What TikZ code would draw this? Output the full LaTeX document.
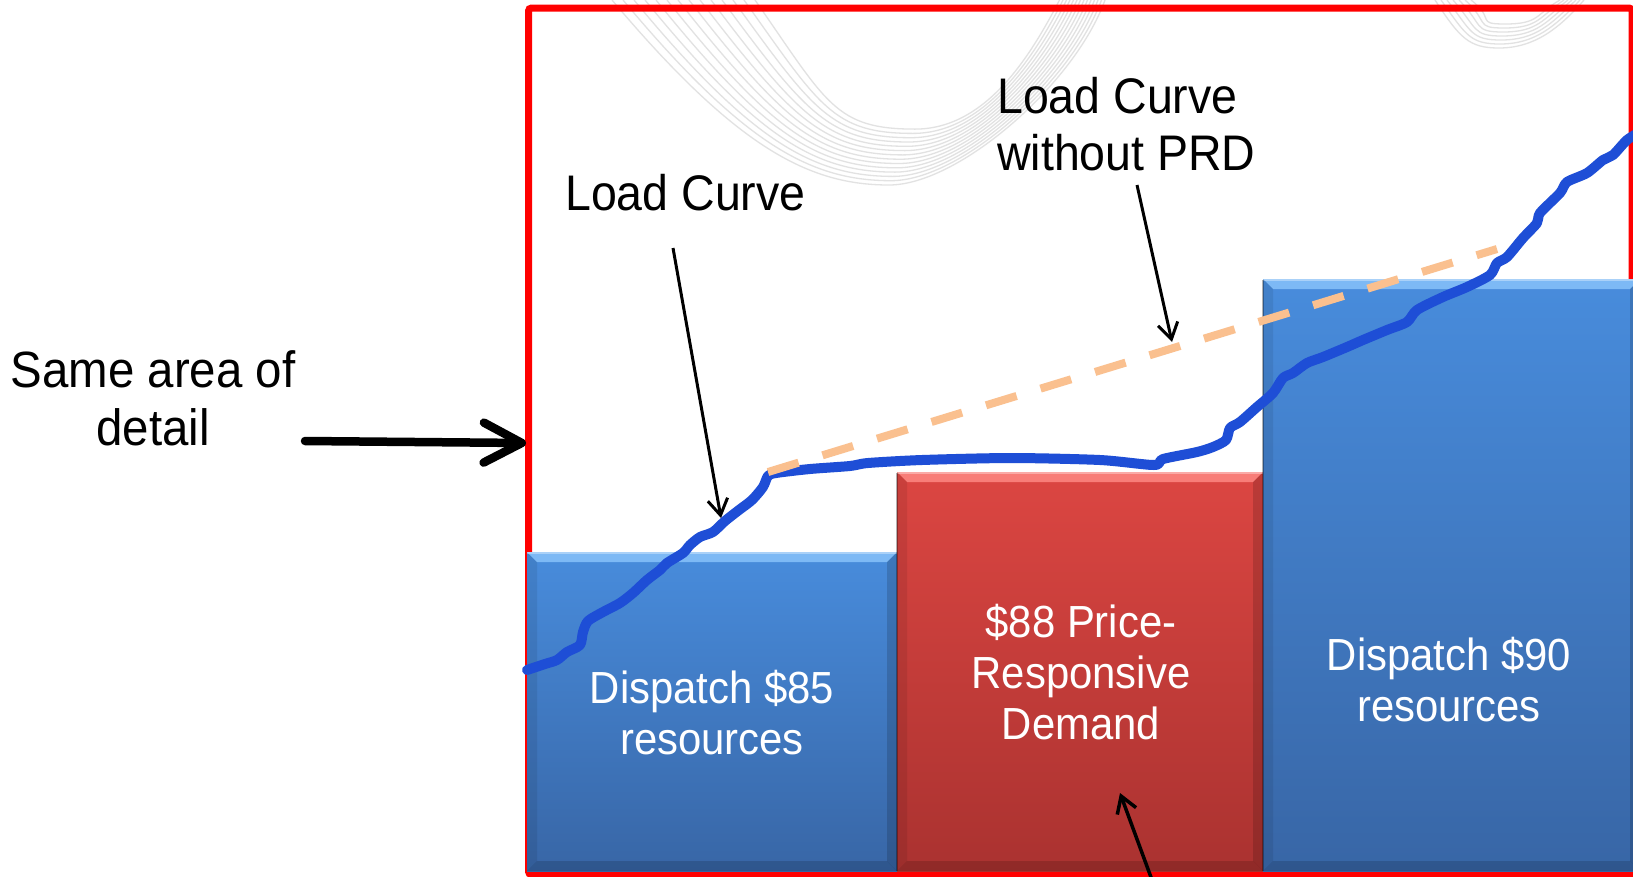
\documentclass[tikz,border=0pt]{standalone}
\usepackage{fontspec}
\setmainfont{Liberation Sans}[FakeStretch=0.93]
\usetikzlibrary{arrows.meta}

\definecolor{blueTop}{RGB}{72,140,220}
\definecolor{blueBot}{RGB}{56,102,166}
\definecolor{blueHi}{RGB}{125,185,245}
\definecolor{redTop}{RGB}{220,70,66}
\definecolor{redBot}{RGB}{170,50,48}
\definecolor{redHi}{RGB}{248,125,120}
\definecolor{loadblue}{RGB}{30,78,214}
\definecolor{prdpeach}{RGB}{250,192,143}
\definecolor{framered}{RGB}{255,0,0}
\definecolor{wavegray}{RGB}{226,226,226}

% bevelled bar: #1 x1, #2 y1, #3 x2, #4 y2, #5 colour prefix
\newcommand\bevelbar[5]{%
  \fill[top color=#5Top, bottom color=#5Bot] (#1,#2) rectangle (#3,#4);
  \fill[#5Hi] (#1,#2) -- (#3,#2) -- ({#3-10},{#2+10}) -- ({#1+10},{#2+10}) -- cycle;
  \fill[black, opacity=0.08] (#1,#2) -- ({#1+10},{#2+10}) -- ({#1+10},{#4-10}) -- (#1,#4) -- cycle;
  \fill[black, opacity=0.15] (#3,#2) -- ({#3-10},{#2+10}) -- ({#3-10},{#4-10}) -- (#3,#4) -- cycle;
  \fill[black, opacity=0.15] (#1,#4) -- ({#1+10},{#4-10}) -- ({#3-10},{#4-10}) -- (#3,#4) -- cycle;
  \draw[white, opacity=0.35, line width=1.5] (#1,{#2+0.75}) -- (#3,{#2+0.75});
}

\tikzset{
  bartext/.style={text=white, align=center, inner sep=0pt, font=\fontsize{45}{51}\selectfont},
  calltext/.style={text=black, inner sep=0pt, font=\fontsize{50}{57}\selectfont},
  pointer/.style={draw=black, line width=3pt, -{Straight Barb[length=16pt,width=20pt]}},
  bigpointer/.style={draw=black, line width=8.5pt, line cap=round,
    -{Straight Barb[length=38pt,width=40pt,line cap=round,line join=round]}},
  wave/.style={draw=wavegray, line width=1.3pt},
}

\begin{document}
\begin{tikzpicture}[x=1pt, y=-1pt]
\useasboundingbox (0,0) rectangle (1633,876);
\fill[white] (0,0) rectangle (1633,876);

% faint template waves behind the chart
\foreach \t in {0,...,13} {
  \pgfmathsetmacro\xl{612+\t*11}
  \pgfmathsetmacro\xb{889+\t*2}
  \pgfmathsetmacro\yb{185-\t*4.3}
  \pgfmathsetmacro\xr{1105-\t*3.5}
  \draw[wave] (\xl,0) .. controls ({\xl+(\xb-\xl)*0.45},{\yb*0.8}) and ({\xb-80},\yb) .. (\xb,\yb)
     .. controls ({\xb+70},\yb) and ({\xr-30},{\yb*0.45}) .. (\xr,0);
}
\foreach \t in {0,...,6} {
  \pgfmathsetmacro\xl{1435+\t*6}
  \pgfmathsetmacro\xb{1499+\t*1}
  \pgfmathsetmacro\yb{48-\t*4}
  \pgfmathsetmacro\xr{1584-\t*4}
  \draw[wave] (\xl,0) .. controls ({\xl+25},{\yb*0.8}) and ({\xb-30},\yb) .. (\xb,\yb)
     .. controls ({\xb+35},\yb) and ({\xr-25},{\yb*0.6}) .. (\xr,0);
}

% red detail frame
\draw[framered, line width=7pt, rounded corners=3pt] (528.5,8) rectangle (1632,874.5);

% price bars
\bevelbar{527}{552}{897}{871}{blue}
\bevelbar{897}{472}{1263}{871}{red}
\bevelbar{1263}{279}{1640}{871}{blue}
\draw[black, opacity=0.3, line width=2.5pt] (897,473) -- (897,871);
\draw[black, opacity=0.3, line width=2.5pt] (1263,280) -- (1263,871);

% the base anchor of a multi-line node sits on its last line
\node[bartext, anchor=base] (b85) at (712,754) {Dispatch \$85\\resources};
\node[bartext, anchor=base] (b88) at (1081,739) {\$88 Price-\\Responsive\\Demand};
\node[bartext, anchor=base] (b90) at (1449,721) {Dispatch \$90\\resources};

% load curve and load curve without price-responsive demand
\draw[loadblue, line width=10pt, line join=round, line cap=round]
  plot[smooth, tension=0.45] coordinates {
  (527,670) (545,664) (557,660) (567,652) (580,645) (583,632) (588,621) (603,612)
  (620,603) (633,593) (647,580) (660,570) (667,563) (683,553) (690,545) (700,537)
  (713,532) (725,521) (739,510) (752,500) (763,487) (768,476) (776,473) (810,469)
  (850,466) (868,463) (922,460) (1011,458) (1100,460) (1154,465) (1163,459)
  (1197,452) (1213,447) (1226,440) (1230,428) (1240,422) (1257,407) (1273,393)
  (1283,378) (1293,373) (1307,363) (1323,357) (1347,347) (1363,340) (1387,330)
  (1407,322) (1417,310) (1443,297) (1467,287) (1490,275) (1497,263) (1507,257)
  (1523,238) (1537,223) (1540,213) (1560,193) (1567,182) (1587,173) (1603,160)
  (1613,155) (1627,140) (1640,132)};
\coordinate (prdA) at (768,472);
\coordinate (prdB) at (1497,249);
\draw[prdpeach, line width=8pt, dash pattern=on 32pt off 25pt] (prdA) -- (prdB);

% labels and pointers
\node[calltext, anchor=base west] (lc) at (565,210) {Load Curve};
\node[calltext, anchor=base west, align=left] (lcw) at (997,170) {Load Curve\\without PRD};
\node[calltext, anchor=base, align=center, font=\fontsize{51}{58}\selectfont] (same) at (153,445) {Same area of\\detail};

\coordinate (lcA) at (673,248);
\coordinate (lcB) at (721,518);
\coordinate (lcwA) at (1137,185);
\coordinate (lcwB) at (1172,342);
\coordinate (prdC) at (1152,880);
\coordinate (prdD) at (1120,793);
\coordinate (sameA) at (305,441);
\coordinate (sameB) at (526,443);
\draw[pointer] (lcA) -- (lcB);
\draw[pointer] (lcwA) -- (lcwB);
\draw[pointer, line width=3.5pt] (prdC) -- (prdD);
\draw[bigpointer] (sameA) -- (sameB);
\end{tikzpicture}
\end{document}
